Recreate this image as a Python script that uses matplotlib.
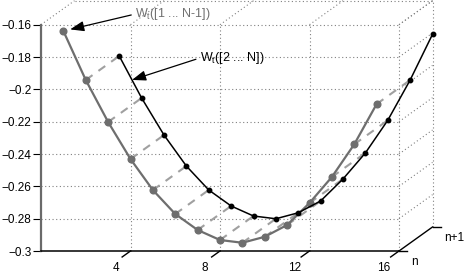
import numpy as np
import matplotlib
matplotlib.use("Agg")
import matplotlib.pyplot as plt
from matplotlib.transforms import offset_copy

plt.rcParams['font.family'] = ['Liberation Sans', 'DejaVu Sans']
plt.rcParams['mathtext.fontset'] = 'custom'
plt.rcParams['mathtext.rm'] = 'Liberation Sans'
plt.rcParams['mathtext.it'] = 'Liberation Sans:italic'

# ---------------- data ----------------
w_index = np.arange(1, 17)
w_values = np.array([-0.1639, -0.1942, -0.2202, -0.2431, -0.2623, -0.2771,
                     -0.2870, -0.2932, -0.2949, -0.2912, -0.2839, -0.2703,
                     -0.2542, -0.2340, -0.2091, -0.1808])
gray_x = w_index[:-1]      # W_t([1 ... N-1]) plotted on plane n
gray_z = w_values[:-1]
black_x = w_index[1:]      # W_t([2 ... N]) plotted on plane n+1
black_z = w_values[1:]

x_ticks = [4, 8, 12, 16]
x_tick_labels = ['4', '8', '12', '16']
z_ticks = [-0.30, -0.28, -0.26, -0.24, -0.22, -0.20, -0.18, -0.16]
z_tick_labels = ['\u22120.3', '\u22120.28', '\u22120.26', '\u22120.24',
                 '\u22120.22', '\u22120.2', '\u22120.18', '\u22120.16']
depth_levels = [0, 1]
depth_labels = ['n', 'n+1']
label_1 = r'W$_\mathrm{t}$([1 ... N-1])'
label_2 = r'W$_\mathrm{t}$([2 ... N])'

# ---------------- layout ----------------
W_PX, H_PX = 465, 280
fig = plt.figure(figsize=(W_PX / 100, H_PX / 100), dpi=100)
x0_px, x1_px = 41, 399
ztop_px, zbot_px = 24.7, 251
ax = fig.add_axes([x0_px / W_PX, 1 - zbot_px / H_PX,
                   (x1_px - x0_px) / W_PX, (zbot_px - ztop_px) / H_PX])
XMIN, XMAX, ZMIN, ZMAX = 0, 16, -0.30, -0.16
ax.set_xlim(XMIN, XMAX)
ax.set_ylim(ZMIN, ZMAX)
ax.set_facecolor('none')

DEPTH_PX = (33.5, 24.0)
DX = DEPTH_PX[0] / ((x1_px - x0_px) / (XMAX - XMIN))
DZ = DEPTH_PX[1] / ((zbot_px - ztop_px) / (ZMAX - ZMIN))
PXX = (XMAX - XMIN) / (x1_px - x0_px)   # data units per pixel along x


def proj(x, d, z):
    return np.asarray(x) + d * DX, np.asarray(z) + d * DZ


def seg(p, q, **kw):
    (xa, za), (xb, zb) = proj(*p), proj(*q)
    ax.plot([xa, xb], [za, zb], clip_on=False, **kw)


grid_kw = dict(color='#808080', lw=0.8, ls=(0, (1, 2.3)), zorder=1)

# grid on plane n (back wall)
for z in z_ticks[1:]:
    seg((XMIN, 0, z), (XMAX, 0, z), **grid_kw)
for x in x_ticks:
    seg((x, 0, ZMIN), (x, 0, ZMAX), **grid_kw)
# grid on top face
for x in [XMIN] + x_ticks:
    seg((x, 0, ZMAX), (x, 1, ZMAX), **grid_kw)
seg((XMIN, 1, ZMAX), (XMAX, 1, ZMAX), **grid_kw)
# grid on right wall
for z in z_ticks[1:]:
    seg((XMAX, 0, z), (XMAX, 1, z), **grid_kw)
seg((XMAX, 1, ZMIN), (XMAX, 1, ZMAX), **grid_kw)

# ---------------- axes lines & ticks ----------------
for s in ['top', 'right']:
    ax.spines[s].set_visible(False)
ax.spines['left'].set_color('#6a6a6a')
ax.spines['left'].set_linewidth(1.6)
ax.spines['bottom'].set_color('black')
ax.spines['bottom'].set_linewidth(1.1)
ax.set_yticks(z_ticks)
ax.set_yticklabels(z_tick_labels)
ax.tick_params(axis='y', direction='out', length=5.8, width=0.8, pad=1.2,
               labelsize=8.5, color='black')
ax.set_xticks([])

axis_kw = dict(color='black', lw=1.0, zorder=2)
# depth axis
seg((XMAX, 0, ZMIN), (XMAX, 1, ZMIN), **axis_kw)
# x ticks (pointing towards -depth)
for x, lab in zip(x_ticks, x_tick_labels):
    seg((x, 0, ZMIN), (x, -0.25, ZMIN), **axis_kw)
    ax.text(x, ZMIN, lab, fontsize=8.5, ha='center', va='center',
            transform=offset_copy(ax.transData, fig, x=-15, y=-17, units='dots'))
# depth ticks (pointing towards +x)
for d, lab in zip(depth_levels, depth_labels):
    seg((XMAX, d, ZMIN), (XMAX + 8 * PXX, d, ZMIN), **axis_kw)
    px, pz = proj(XMAX, d, ZMIN)
    ax.text(px, pz, lab, fontsize=8.5, ha='left', va='center',
            transform=offset_copy(ax.transData, fig, x=12, y=-11, units='dots'))

# ---------------- data marks ----------------
for x, z in zip(gray_x[1:], gray_z[1:]):
    seg((x, 0, z), (x, 1, z), color='#a0a0a0', lw=1.5, ls=(0, (4, 3.5)), zorder=3)

gx, gz = proj(gray_x, 0, gray_z)
ax.plot(gx, gz, color='#6e6e6e', lw=1.6, marker='o', ms=4.8,
        mfc='#6e6e6e', mec='#6e6e6e', clip_on=False, zorder=4)
bx, bz = proj(black_x, 1, black_z)
ax.plot(bx, bz, color='black', lw=1.1, marker='o', ms=3.2,
        mfc='black', mec='black', clip_on=False, zorder=5)

# ---------------- annotations ----------------
arrow = dict(arrowstyle='-|>,head_length=0.6,head_width=0.22', color='black',
             lw=0.9, shrinkA=1, shrinkB=5, relpos=(0, 0.5), mutation_scale=14)
ax.annotate(label_1, xy=proj(gray_x[0], 0, gray_z[0]), xytext=(72, 17),
            textcoords='offset pixels', ha='left', va='center', fontsize=9,
            color='#707070', arrowprops=arrow, annotation_clip=False, zorder=6)
t = 0.57
tip_z = black_z[0] + t * (black_z[1] - black_z[0])
arrow2 = dict(arrow, shrinkB=0)
ax.annotate(label_2, xy=proj(black_x[0] + t, 1, tip_z), xytext=(68, 22),
            textcoords='offset pixels', ha='left', va='center', fontsize=9,
            color='black', arrowprops=arrow2, annotation_clip=False, zorder=6)

fig.savefig('out.png', dpi=100)
